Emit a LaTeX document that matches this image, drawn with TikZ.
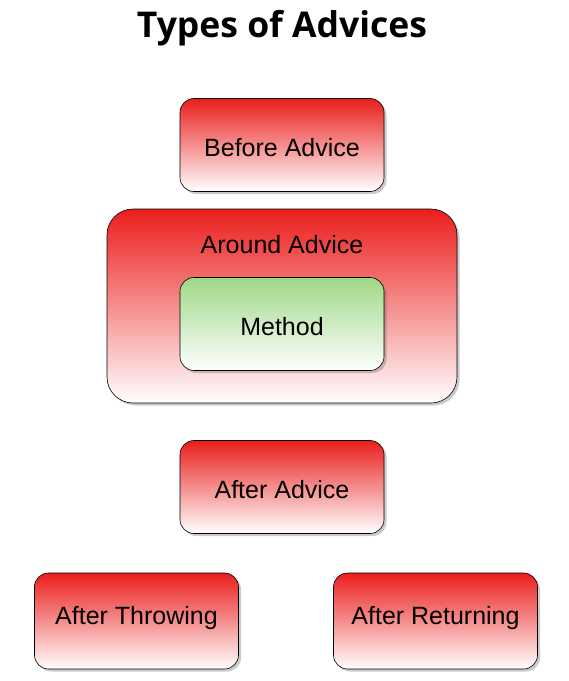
\documentclass[tikz,border=0pt]{standalone}
\usepackage{fontspec}
\setmainfont{Liberation Sans}
\newfontfamily\titlefont{Open Sans}
\usetikzlibrary{shadows}
\definecolor{advred}{RGB}{234,30,28}
\definecolor{advgreen}{RGB}{158,216,134}
\tikzset{
  advbox/.style={draw=black, line width=0.6pt, rounded corners=14pt,
    top color=advred, bottom color=white, shading angle=0,
    minimum width=204pt, minimum height=93pt, inner sep=0pt,
    drop shadow={shadow xshift=2.5pt, shadow yshift=-2.5pt, opacity=0.35, fill=black!60}},
  greenbox/.style={advbox, top color=advgreen, bottom color=white},
  bigbox/.style={advbox, rounded corners=26pt, minimum width=350pt, minimum height=194pt},
  lbl/.style={font=\fontsize{25}{29}\selectfont, inner sep=0pt}
}
\begin{document}
\begin{tikzpicture}[x=1pt,y=-1pt]
\useasboundingbox (0,0) rectangle (569,681);
\node[font=\titlefont\bfseries\fontsize{35.5}{40}\selectfont, inner sep=0pt] (title) at (282,28) {Types of Advices};
\node[advbox] (before) at (282,145) {};
\node[lbl] (beforelbl) at (282,148) {Before Advice};
\node[bigbox] (around) at (282,306) {};
\node[lbl] (aroundlbl) at (282,245) {Around Advice};
\node[greenbox] (method) at (282,324) {};
\node[lbl] (methodlbl) at (282,327) {Method};
\node[advbox] (after) at (282,487) {};
\node[lbl] (afterlbl) at (282,490) {After Advice};
\node[advbox, minimum height=96pt] (throwing) at (136.5,621) {};
\node[lbl] (throwinglbl) at (136.5,618) {After Throwing};
\node[advbox, minimum height=96pt] (returning) at (435.5,621) {};
\node[lbl] (returninglbl) at (435.5,618) {After Returning};
\end{tikzpicture}
\end{document}
